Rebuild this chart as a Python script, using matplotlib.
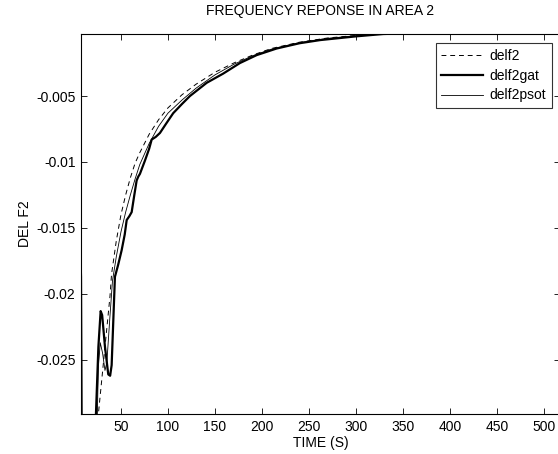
import numpy as np
import matplotlib
matplotlib.use("Agg")
import matplotlib.pyplot as plt

plt.rcParams['font.family'] = ['Liberation Sans', 'DejaVu Sans']

# delf2 (dashed)
t_delf2 = [0, 4, 7.5, 9, 14, 20, 24, 26, 30, 34, 38.3, 40, 45, 50, 55, 60, 65, 70, 80, 90, 100,
           115, 130, 150, 170, 190, 210, 240, 270, 300, 330, 400, 560]
v_delf2 = [0, -0.02, -0.034, -0.040, -0.046, -0.042, -0.032, -0.0291, -0.0262, -0.0233, -0.0202,
           -0.0185, -0.0160, -0.0140, -0.0125, -0.0112, -0.0101, -0.0093, -0.0079, -0.0068,
           -0.0059, -0.0049, -0.0041, -0.0032, -0.0025, -0.0019, -0.0014, -0.00092, -0.00060,
           -0.00041, -0.00028, -0.00014, -0.00006]

# delf2gat (thick)
t_gat = [0, 5, 7.5, 8.5, 12, 17, 22, 23.4, 26, 28.4, 30, 33, 36.5, 38.5, 40.1, 43.6, 47, 50.7,
         54, 56.1, 59, 61.4, 64, 66.7, 68.5, 70.2, 75.5, 80, 82.7, 87, 91.5, 98, 105.6, 115,
         123.4, 141.2, 158.8, 176.6, 194.4, 215.6, 240, 262, 300, 329, 400, 560]
v_gat = [0, -0.012, -0.0187, -0.035, -0.045, -0.044, -0.032, -0.0291, -0.0240, -0.0213,
         -0.0216, -0.0240, -0.0261, -0.0262, -0.0254, -0.0187, -0.0178, -0.0167, -0.0155,
         -0.0144, -0.0141, -0.0138, -0.0126, -0.0114, -0.0111, -0.0109, -0.0099, -0.0090,
         -0.0083, -0.0081, -0.0078, -0.0071, -0.0063, -0.0056, -0.0050, -0.0040, -0.0033,
         -0.0025, -0.0019, -0.0014, -0.00100, -0.00076, -0.00048, -0.00030, -0.00016, -0.00007]

# delf2psot (thin)
t_psot = [0, 4, 7.5, 9, 14, 20, 24, 26, 28, 30.5, 33, 35, 38, 41, 45, 50, 55, 60, 65, 70, 80,
          90, 100, 115, 130, 150, 170, 190, 210, 240, 270, 300, 330, 400, 560]
v_psot = [0, -0.02, -0.034, -0.040, -0.046, -0.042, -0.032, -0.0255, -0.0237, -0.0245,
          -0.0258, -0.0252, -0.0220, -0.0190, -0.0172, -0.0153, -0.0138, -0.0125, -0.0113,
          -0.0102, -0.0086, -0.0073, -0.0063, -0.0053, -0.0044, -0.0034, -0.0026, -0.00195,
          -0.00145, -0.00095, -0.00063, -0.00043, -0.00029, -0.00015, -0.00006]

xticks = [50, 100, 150, 200, 250, 300, 350, 400, 450, 500]
yticks = [-0.025, -0.02, -0.015, -0.01, -0.005]
ytick_labels = ['-0.025', '-0.02', '-0.015', '-0.01', '-0.005']

FS = 10
W, H = 558, 454
fig = plt.figure(figsize=(W / 100, H / 100), dpi=100)
left, right, top, bottom = 81, 560, 34, 414
ax = fig.add_axes([left / W, (H - bottom) / H, (right - left) / W, (bottom - top) / H])

ax.plot(t_delf2, v_delf2, color='black', lw=0.7, linestyle=(0, (5, 4)), label='delf2')
ax.plot(t_gat, v_gat, color='black', lw=1.6, label='delf2gat')
ax.plot(t_psot, v_psot, color='black', lw=0.6, label='delf2psot')

ax.set_xlim(7.5, 7.5 + (right - left) / 0.94)
ax.set_ylim(-0.0291, -0.0003)
ax.set_xticks(xticks)
ax.set_xticklabels([str(x) for x in xticks])
ax.set_yticks(yticks)
ax.set_yticklabels(ytick_labels)
ax.tick_params(direction='in', length=4, width=0.6, labelsize=FS, top=True, right=True, pad=4)
for s in ax.spines.values():
    s.set_linewidth(0.8)

ax.set_title('FREQUENCY REPONSE IN AREA 2', fontsize=FS, pad=14)
ax.set_xlabel('TIME (S)', fontsize=FS, labelpad=2)
ax.set_ylabel('DEL F2', fontsize=FS, labelpad=3)

leg = ax.legend(loc='upper right', bbox_to_anchor=(552 / W, (H - 43) / H),
                bbox_transform=fig.transFigure, fontsize=FS, frameon=True, fancybox=False,
                edgecolor='black', borderpad=0.4, handlelength=3.0, handletextpad=0.5,
                labelspacing=0.43, borderaxespad=0)
leg.get_frame().set_linewidth(0.8)

fig.savefig('out.png', dpi=100)
